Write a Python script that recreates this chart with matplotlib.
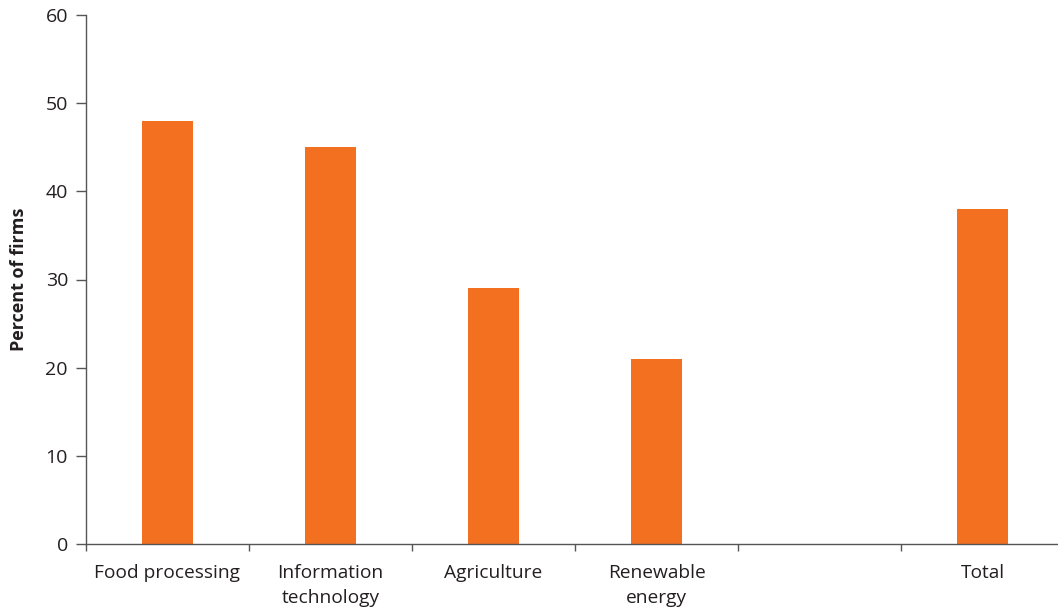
import numpy as np
import matplotlib.pyplot as plt

# data
categories = ["Food processing", "Information\ntechnology", "Agriculture",
              "Renewable\nenergy", "", "Total"]
values = [48, 45, 29, 21, np.nan, 38]
y_ticks = [0, 10, 20, 30, 40, 50, 60]

plt.rcParams['font.family'] = ['Open Sans', 'DejaVu Sans']
text_color = "#231f20"
axis_color = "#555555"

fig = plt.figure(figsize=(10.58, 6.12), dpi=100)
ax = fig.add_axes([86 / 1058, 68 / 612, 978 / 1058, 529 / 612])

x = np.arange(len(categories))
ax.bar(x, values, width=0.31, color="#f37021")

ax.set_xlim(-0.5, len(categories) - 0.5)
ax.set_ylim(0, 60)
ax.set_yticks(y_ticks)

# category labels centred, small ticks at category boundaries
ax.set_xticks(x)
ax.set_xticklabels(categories, fontsize=13.8, color=text_color, linespacing=1.48)
ax.tick_params(axis="x", which="major", length=0, pad=14.5)
ax.set_xticks(np.arange(-0.5, len(categories) - 0.5, 1), minor=True)
ax.tick_params(axis="x", which="minor", length=5, width=1, color=axis_color, direction="out")

ax.tick_params(axis="y", labelsize=14, labelcolor=text_color, length=7, width=1,
               color=axis_color, pad=6)

for s in ["top", "right"]:
    ax.spines[s].set_visible(False)
for s in ["left", "bottom"]:
    ax.spines[s].set_color(axis_color)
    ax.spines[s].set_linewidth(1)

fig.text(19 / 1058, 1 - 279 / 612, "Percent of firms", rotation=90, fontsize=13,
         fontweight="bold", color=text_color, ha="center", va="center")

plt.savefig("out.png", dpi=100)
